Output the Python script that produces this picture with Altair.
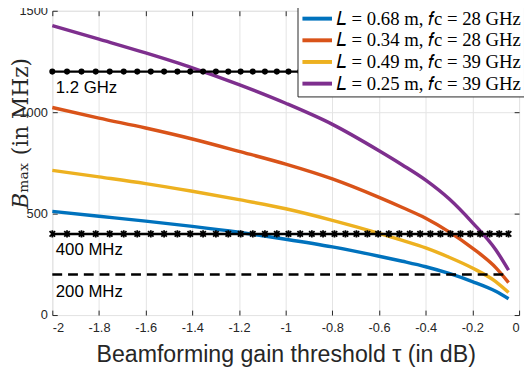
import altair as alt
import pandas as pd

# ---- data ----
tau = [-2.0, -1.8, -1.6, -1.4, -1.2, -1.0, -0.8, -0.6, -0.5, -0.4, -0.3, -0.2, -0.1, -0.045]
b_068_28 = [511, 487, 463, 437, 408, 374, 336, 290, 265, 238, 205, 165, 117, 80]
b_034_28 = [1023, 971, 922, 868, 807, 744, 671, 580, 530, 477, 410, 330, 234, 160]
b_049_39 = [713, 681, 648, 610, 569, 524, 467, 403, 368, 331, 285, 232, 165, 111]
b_025_39 = [1427, 1360, 1292, 1219, 1136, 1044, 940, 810, 740, 665, 573, 456, 322, 221]

series_labels = [
    "𝐿 = 0.68 m,\u00a0𝑓c = 28 GHz",
    "𝐿 = 0.34 m,\u00a0𝑓c = 28 GHz",
    "𝐿 = 0.49 m,\u00a0𝑓c = 39 GHz",
    "𝐿 = 0.25 m,\u00a0𝑓c = 39 GHz",
]
series_colors = ["#0072BD", "#D95319", "#EDB120", "#7E2F8E"]

# marker positions of the reference lines (tau, dB)
marker_tau = [-2.000, -1.937, -1.875, -1.814, -1.754, -1.694, -1.636, -1.578, -1.521, -1.464,
              -1.409, -1.354, -1.299, -1.246, -1.193, -1.141, -1.089, -1.038, -0.988, -0.938,
              -0.888, -0.840, -0.791, -0.744, -0.697, -0.650, -0.604, -0.558, -0.513, -0.468,
              -0.424, -0.380, -0.337, -0.294, -0.251, -0.209, -0.167, -0.126, -0.085, -0.045]
ref_levels = [1200, 400, 200]
ref_texts = ["1.2 GHz", "400 MHz", "200 MHz"]
ref_text_y = [1121, 319, 114]
ref_text_x = -1.985
x_ticks = [-2, -1.8, -1.6, -1.4, -1.2, -1, -0.8, -0.6, -0.4, -0.2, 0]
y_ticks = [0, 500, 1000, 1500]

# ---- tables ----
rows = []
for lab, vals in zip(series_labels, [b_068_28, b_034_28, b_049_39, b_025_39]):
    for t, v in zip(tau, vals):
        rows.append({"tau": t, "B": v, "series": lab})
curve_df = pd.DataFrame(rows)

line_1200 = pd.DataFrame({"tau": marker_tau, "B": [ref_levels[0]] * len(marker_tau)})
line_400 = pd.DataFrame({"tau": marker_tau, "B": [ref_levels[1]] * len(marker_tau)})
line_200 = pd.DataFrame({"tau": [marker_tau[0], marker_tau[-1]], "B": [ref_levels[2]] * 2})
text_df = pd.DataFrame({"tau": [ref_text_x] * 3, "B": ref_text_y, "txt": ref_texts})

AX = "#262626"
xscale = alt.Scale(domain=[-2, 0], nice=False, zero=False)
yscale = alt.Scale(domain=[0, 1500], nice=False)

x_bottom = alt.Axis(orient="bottom", values=x_ticks, labelExpr="'' + datum.value",
                    offset=-5, tickSize=5, tickColor=AX, domain=False,
                    grid=True, gridColor="#e4e4e4",
                    labelFont="Liberation Sans", labelFontSize=13, labelColor=AX, labelPadding=7,
                    title="Beamforming gain threshold τ (in dB)", titleFont="Liberation Sans",
                    titleFontSize=23.5, titleFontWeight="normal", titleColor=AX,
                    titleY=45, titleBaseline="middle")
y_left = alt.Axis(orient="left", values=y_ticks, format="d", offset=-5, tickSize=5, tickColor=AX,
                  domain=False, grid=True, gridColor="#e4e4e4",
                  labelFont="Liberation Sans", labelFontSize=13, labelColor=AX, labelPadding=5,
                  title="𝐵ₘₐₓ (in MHz)", titleFont="DejaVu Serif", titleFontSize=22,
                  titleFontWeight="normal", titleColor=AX, titleX=-37, titleY=124,
                  titleBaseline="middle", titleAngle=270)
x_top = alt.Axis(orient="top", values=x_ticks, offset=-5, tickSize=5, tickColor=AX, domain=False,
                 grid=False, labels=False, title=None)
y_right = alt.Axis(orient="right", values=y_ticks, offset=-5, tickSize=5, tickColor=AX, domain=False,
                   grid=False, labels=False, title=None)

legend = alt.Legend(orient="none", legendX=249, legendY=-7, title=None, fillColor="white",
                    strokeColor=AX, padding=3, rowPadding=0, labelFont="Liberation Serif",
                    labelFontSize=19, labelColor="black", labelLimit=400, labelOffset=12,
                    symbolType="M-1,0H2", symbolSize=400, symbolStrokeWidth=4)

curves = alt.Chart(curve_df).mark_line(strokeWidth=3.5, interpolate="monotone").encode(
    x=alt.X("tau:Q", scale=xscale, axis=x_bottom),
    y=alt.Y("B:Q", scale=yscale, axis=y_left),
    color=alt.Color("series:N", scale=alt.Scale(domain=series_labels, range=series_colors),
                    sort=series_labels, legend=legend),
)

frame = alt.Chart(curve_df).mark_point(opacity=0).encode(
    x=alt.X("tau:Q", scale=xscale, axis=x_top),
    y=alt.Y("B:Q", scale=yscale, axis=y_right),
)

def enc(ch):
    return ch.encode(x=alt.X("tau:Q", scale=xscale, axis=None),
                     y=alt.Y("B:Q", scale=yscale, axis=None))

l1200 = enc(alt.Chart(line_1200).mark_line(color="black", strokeWidth=2.5))
p1200 = enc(alt.Chart(line_1200).mark_point(shape="circle", filled=True, size=38, color="black", opacity=1))
l400 = enc(alt.Chart(line_400).mark_line(color="black", strokeWidth=2.5))
p400 = enc(alt.Chart(line_400).mark_point(
    shape="M-0.75,-0.75L0.75,0.75M-0.75,0.75L0.75,-0.75M0,-1L0,1",
    filled=False, size=55, strokeWidth=1.8, color="black", opacity=1))
l200 = enc(alt.Chart(line_200).mark_line(color="black", strokeWidth=2.5, strokeDash=[10, 6]))
texts = alt.Chart(text_df).mark_text(align="left", baseline="middle", font="Liberation Sans",
                                     fontSize=17, color="black").encode(
    x=alt.X("tau:Q", scale=xscale, axis=None),
    y=alt.Y("B:Q", scale=yscale, axis=None),
    text="txt:N",
)

chart = alt.layer(curves, frame, l1200, p1200, l400, p400, l200, texts).resolve_axis(
    x="independent", y="independent"
).properties(
    width=474, height=309,
    autosize=alt.AutoSizeParams(type="none"),
    padding={"left": 45, "top": 0, "right": 5, "bottom": 53},
).configure_view(stroke=AX, strokeWidth=1).configure(background="white")

chart.save("out.html", embed_options={"renderer": "svg", "actions": False})
